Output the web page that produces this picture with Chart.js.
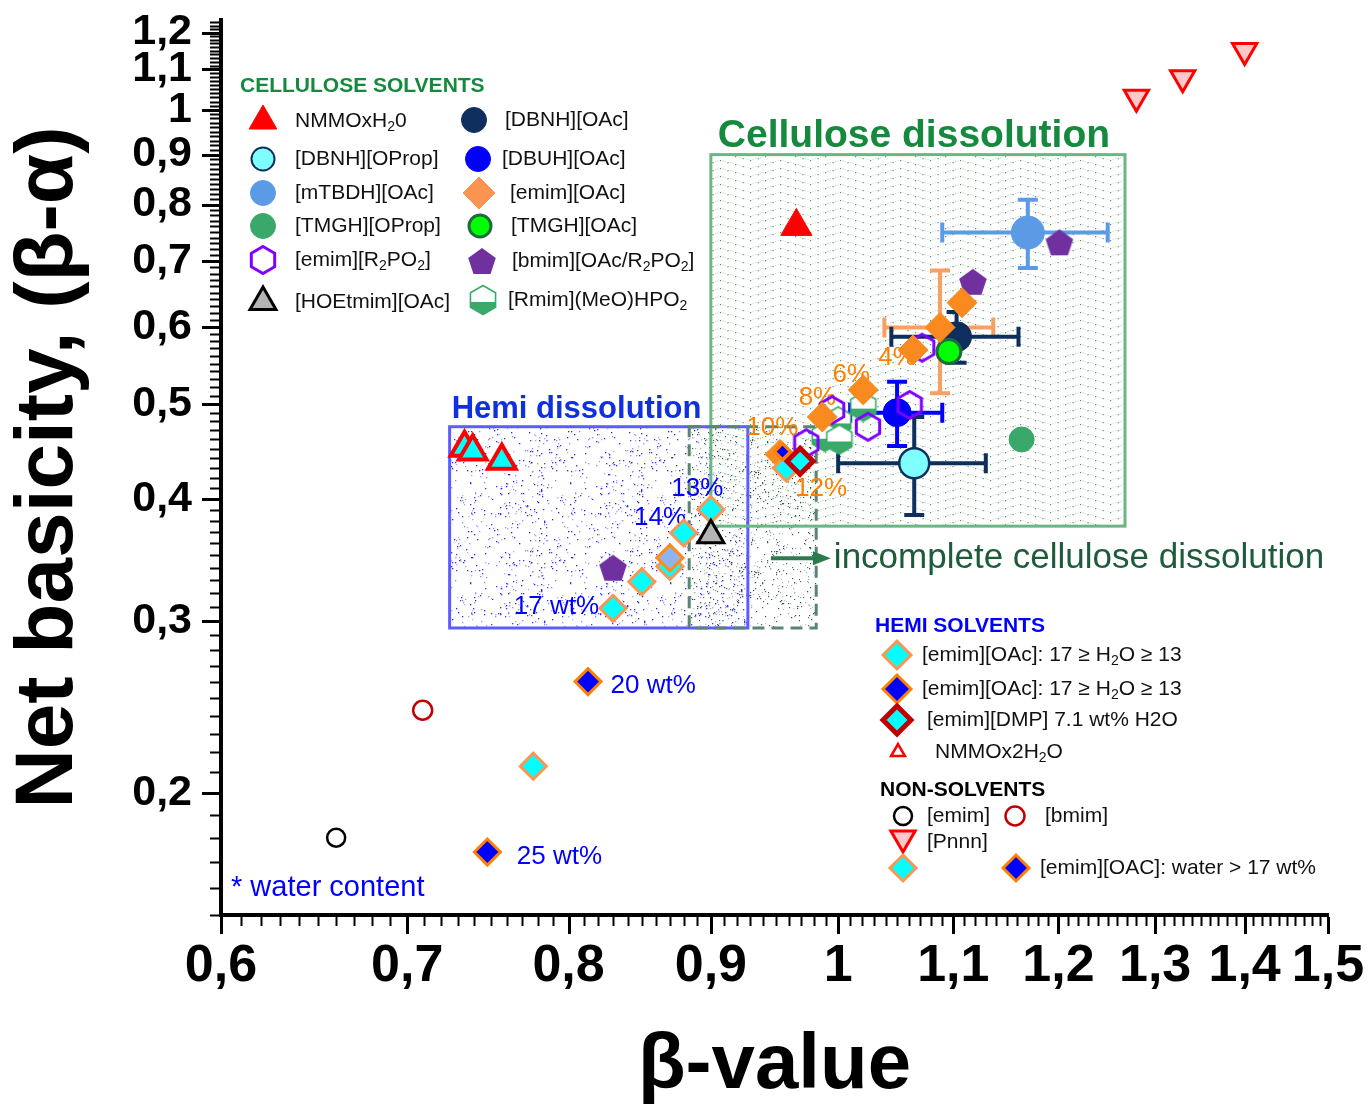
<!DOCTYPE html>
<html>
<head>
<meta charset="utf-8">
<title>Net basicity vs beta-value</title>
<script src="https://cdn.jsdelivr.net/npm/chart.js@4.4.1/dist/chart.umd.min.js"></script>
<style>
  html, body { margin: 0; padding: 0; background: #ffffff; }
  canvas { display: block; }
</style>
</head>
<body>
<canvas id="myChart" width="1368" height="1113"></canvas>
<script>
// ---- values: [beta-value, net basicity (beta-alpha)] ----
var xTicks = [0.6, 0.7, 0.8, 0.9, 1.0, 1.1, 1.2, 1.3, 1.4, 1.5];
var yTicks = [0.2, 0.3, 0.4, 0.5, 0.6, 0.7, 0.8, 0.9, 1.0, 1.1, 1.2];

// cellulose solvents
var nmmoH2O = [[0.966, 0.760]];
var dbnhOAc = [[1.103, 0.586]];
var dbnhOAcErr = [[0.058, 0.035]];
var dbnhOProp = [[1.065, 0.435]];
var dbnhOPropErr = [[0.065, 0.050]];
var dbuhOAc = [[1.050, 0.490]];
var dbuhOAcErr = [[0.040, 0.037]];
var mtbdhOAc = [[1.170, 0.749]];
var mtbdhOAcErr = [[0.080, 0.060]];
var tmghOProp = [[1.164, 0.460]];
var tmghOAc = [[1.096, 0.566]];
var emimOAc = [[1.088, 0.599], [1.108, 0.635], [1.064, 0.568], [1.021, 0.517], [0.987, 0.485], [0.953, 0.444]];
var emimOAcErr = [[0.049, 0.086], null, null, null, null, null];
var emimR2PO2 = [[1.072, 0.571], [1.061, 0.499], [1.025, 0.474], [0.995, 0.493], [0.974, 0.456]];
var bmimMix = [[1.201, 0.732], [1.118, 0.667], [0.830, 0.340]];
var hoetmimOAc = [[0.900, 0.367]];
var rmimMeOHPO2 = [[1.021, 0.497], [1.000, 0.480], [0.989, 0.463], [1.001, 0.460]];

// hemi solvents
var emimOAcHemiCyan = [[0.900, 0.390], [0.880, 0.369], [0.870, 0.341], [0.850, 0.329], [0.830, 0.309], [0.958, 0.430]];
var emimOAcHemiPale = [[0.870, 0.348]];
var emimOAcHemiBlue = [[0.955, 0.447]];
var emimDMP = [[0.969, 0.437]];
var nmmo2H2O = [[0.734, 0.451], [0.739, 0.447], [0.757, 0.4375]];

// non-solvents
var emimNon = [[0.660, 0.180]];
var bmimNon = [[0.709, 0.243]];
var pnnn = [[1.280, 1.030], [1.330, 1.079], [1.400, 1.150]];
var emimOAcWetCyan = [[0.777, 0.213]];
var emimOAcWetBlue = [[0.813, 0.260], [0.748, 0.174]];

// shaded regions: [beta from, beta to, net from, net to]
var celluloseRegion = [0.900, 1.268, 0.375, 0.900];
var hemiRegion = [0.725, 0.928, 0.295, 0.474];
var partialRegion = [0.884, 0.982, 0.295, 0.474];

var FONT = '"Liberation Sans", Arial, Helvetica, sans-serif';
Chart.defaults.font.family = FONT;
Chart.defaults.color = '#000';

// pictures for the marker shapes Chart.js has no style for
function shapeCanvas(w, h, draw) {
  var c = document.createElement('canvas');
  c.width = w; c.height = h;
  draw(c.getContext('2d'), w / 2, h / 2);
  return c;
}
function hexPath(g, cx, cy, r) {
  g.beginPath();
  for (var i = 0; i < 6; i++) {
    var a = (-90 + 60 * i) * Math.PI / 180;
    var px = cx + r * Math.cos(a), py = cy + r * Math.sin(a);
    if (i === 0) g.moveTo(px, py); else g.lineTo(px, py);
  }
  g.closePath();
}
var hexagon = shapeCanvas(28, 32, function (g, cx, cy) {
  hexPath(g, cx, cy, 13.5);
  g.strokeStyle = '#8000ff'; g.lineWidth = 3; g.stroke();
});
var pentagon = shapeCanvas(30, 30, function (g, cx, cy) {
  var r = 14.5, oy = cy + r * (1 - Math.cos(Math.PI / 5)) / 2;
  g.beginPath();
  for (var i = 0; i < 5; i++) {
    var a = (-90 + 72 * i) * Math.PI / 180;
    var px = cx + r * Math.cos(a), py = oy + r * Math.sin(a);
    if (i === 0) g.moveTo(px, py); else g.lineTo(px, py);
  }
  g.closePath();
  g.fillStyle = '#7030a0'; g.fill();
});
var halfHex = shapeCanvas(30, 34, function (g, cx, cy) {
  var r = 14.5, k = r * Math.cos(Math.PI / 6);
  hexPath(g, cx, cy, r);
  g.fillStyle = '#ffffff'; g.fill();
  g.beginPath();
  g.moveTo(cx - k, cy + 2); g.lineTo(cx + k, cy + 2); g.lineTo(cx + k, cy + r / 2);
  g.lineTo(cx, cy + r); g.lineTo(cx - k, cy + r / 2); g.closePath();
  g.fillStyle = '#3aaa6a'; g.fill();
  hexPath(g, cx, cy, r);
  g.strokeStyle = '#3aaa6a'; g.lineWidth = 1.6; g.stroke();
});

var ST = {
  nmmo:      { pointStyle: 'triangle', radius: 18, bg: '#ff0000', bc: '#ff0000', bw: 1 },
  dbnhOAc:   { pointStyle: 'circle', radius: 15, bg: '#0e2f5e', bc: '#0e2f5e', bw: 1 },
  dbnhOProp: { pointStyle: 'circle', radius: 15, bg: '#80ffff', bc: '#0e2f5e', bw: 2.5 },
  dbuh:      { pointStyle: 'circle', radius: 14, bg: '#0000ff', bc: '#0000ff', bw: 1 },
  mtbdh:     { pointStyle: 'circle', radius: 16.5, bg: '#5b9be6', bc: '#5b9be6', bw: 1 },
  tmghOProp: { pointStyle: 'circle', radius: 12.5, bg: '#3aa86a', bc: '#3aa86a', bw: 1 },
  tmghOAc:   { pointStyle: 'circle', radius: 12, bg: '#00ff00', bc: '#1f6b3c', bw: 3 },
  emimOAc:   { pointStyle: 'rectRot', radius: 15, bg: '#f98a1f', bc: '#f98a1f', bw: 1 },
  emimR2PO2: { pointStyle: hexagon, radius: 14 },
  bmimMix:   { pointStyle: pentagon, radius: 14 },
  hoetmim:   { pointStyle: 'triangle', radius: 15, bg: '#b4b4b4', bc: '#000000', bw: 3 },
  rmim:      { pointStyle: halfHex, radius: 15 },
  hemiCyan:  { pointStyle: 'rectRot', radius: 13, bg: '#00ffff', bc: '#fb9652', bw: 3 },
  hemiPale:  { pointStyle: 'rectRot', radius: 13, bg: '#8fb4ec', bc: '#ff8c1a', bw: 3 },
  hemiBlue:  { pointStyle: 'rectRot', radius: 13, bg: '#0000ff', bc: '#ff8000', bw: 3 },
  hemiBlueS: { pointStyle: 'rectRot', radius: 8, bg: '#0000ff', bc: '#ff8000', bw: 3 },
  dmp:       { pointStyle: 'rectRot', radius: 13, bg: '#00ffff', bc: '#c00000', bw: 5 },
  nmmo2:     { pointStyle: 'triangle', radius: 16, bg: '#00ffff', bc: '#ff0000', bw: 4 },
  nmmo2Leg:  { pointStyle: 'triangle', radius: 8, bg: '#ffffff', bc: '#ff0000', bw: 2.5 },
  emimNon:   { pointStyle: 'circle', radius: 9, bg: '#ffffff', bc: '#000000', bw: 2.5 },
  bmimNon:   { pointStyle: 'circle', radius: 9.5, bg: '#ffffff', bc: '#c00000', bw: 2.5 },
  pnnn:      { pointStyle: 'triangle', rotation: 180, radius: 14, bg: '#ffc8c8', bc: '#ff0000', bw: 3 }
};

function series(label, pts, st, order, errs, errColor) {
  return {
    label: label,
    data: pts.map(function (p) { return { x: p[0], y: p[1] }; }),
    showLine: false,
    pointStyle: st.pointStyle,
    pointRotation: st.rotation || 0,
    pointRadius: st.radius,
    pointHoverRadius: st.radius,
    pointBackgroundColor: st.bg || 'transparent',
    pointBorderColor: st.bc || 'transparent',
    pointBorderWidth: st.bw || 0,
    order: order,
    errorBars: errs || null,
    errorColor: errColor || '#000'
  };
}

var datasets = [
  series('[emim][DMP] 7.1 wt% H2O', emimDMP, ST.dmp, 1),
  series('[emim][OAc] hemi (blue)', emimOAcHemiBlue, ST.hemiBlueS, 1.5),
  series('[HOEtmim][OAc]', hoetmimOAc, ST.hoetmim, 2),
  series('[emim][OAc] hemi (pale)', emimOAcHemiPale, ST.hemiPale, 2.5),
  series('[emim][OAc] hemi (cyan)', emimOAcHemiCyan, ST.hemiCyan, 3),
  series('NMMOx2H2O', nmmo2H2O, ST.nmmo2, 3),
  series('[emim][OAc]', emimOAc, ST.emimOAc, 4, emimOAcErr, '#f8a062'),
  series('[TMGH][OAc]', tmghOAc, ST.tmghOAc, 5),
  series('[emim][R2PO2]', emimR2PO2, ST.emimR2PO2, 6),
  series('[bmim][OAc/R2PO2]', bmimMix, ST.bmimMix, 6),
  series('[DBUH][OAc]', dbuhOAc, ST.dbuh, 7, dbuhOAcErr, '#0000ff'),
  series('[Rmim](MeO)HPO2', rmimMeOHPO2, ST.rmim, 8),
  series('[DBNH][OAc]', dbnhOAc, ST.dbnhOAc, 9, dbnhOAcErr, '#0e2f5e'),
  series('[DBNH][OProp]', dbnhOProp, ST.dbnhOProp, 9, dbnhOPropErr, '#0e2f5e'),
  series('[mTBDH][OAc]', mtbdhOAc, ST.mtbdh, 9, mtbdhOAcErr, '#5b9be6'),
  series('[TMGH][OProp]', tmghOProp, ST.tmghOProp, 9),
  series('NMMOxH2O', nmmoH2O, ST.nmmo, 9),
  series('[emim]', emimNon, ST.emimNon, 9),
  series('[bmim]', bmimNon, ST.bmimNon, 9),
  series('[Pnnn]', pnnn, ST.pnnn, 9),
  series('[emim][OAC] water > 17 wt% (cyan)', emimOAcWetCyan, ST.hemiCyan, 9),
  series('[emim][OAC] water > 17 wt% (blue)', emimOAcWetBlue, ST.hemiBlue, 9)
];

// ---- helpers for drawing ----
function fmt(v) { return String(Math.round(v * 10) / 10).replace('.', ','); }

// text with "_x" marking a subscript character
function richText(ctx, str, x, y, size, weight, color) {
  var parts = str.split(/(_.)/);
  var cx = x;
  ctx.fillStyle = color;
  ctx.textAlign = 'left';
  ctx.textBaseline = 'middle';
  parts.forEach(function (p) {
    if (!p) return;
    if (p[0] === '_' && p.length === 2) {
      ctx.font = weight + ' ' + Math.round(size * 0.68) + 'px ' + FONT;
      ctx.fillText(p[1], cx, y + size * 0.3);
      cx += ctx.measureText(p[1]).width;
    } else {
      ctx.font = weight + ' ' + size + 'px ' + FONT;
      ctx.fillText(p, cx, y);
      cx += ctx.measureText(p).width;
    }
  });
}

function marker(ctx, st, x, y, over) {
  var o = Object.assign({}, st, over || {});
  ctx.save();
  ctx.fillStyle = o.bg || 'transparent';
  ctx.strokeStyle = o.bc || 'transparent';
  ctx.lineWidth = o.bw || 0;
  Chart.helpers.drawPoint(ctx, { pointStyle: o.pointStyle, rotation: o.rotation || 0, radius: o.radius, borderWidth: o.bw || 0 }, x, y);
  ctx.restore();
}

// texture tiles for the shaded regions (fixed seed, so always the same picture)
function dotTile(w, h, n, colors, seed, size) {
  var c = document.createElement('canvas');
  c.width = w; c.height = h;
  var g = c.getContext('2d');
  var s = seed >>> 0;
  function rnd() {
    s = (s + 0x6D2B79F5) >>> 0;
    var t = s;
    t = Math.imul(t ^ (t >>> 15), t | 1);
    t ^= t + Math.imul(t ^ (t >>> 7), t | 61);
    return ((t ^ (t >>> 14)) >>> 0) / 4294967296;
  }
  for (var i = 0; i < n; i++) {
    g.fillStyle = colors[i % colors.length];
    g.fillRect(Math.floor(rnd() * w), Math.floor(rnd() * h), size, size);
  }
  return c;
}
function waveTile() {
  var c = document.createElement('canvas');
  c.width = 120; c.height = 8;
  var g = c.getContext('2d');
  for (var x = 0; x < 120; x += 2.5) {
    var t = (x % 60) / 60;
    var yy = (t < 0.5 ? t : 1 - t) * 16;
    var k = Math.round(x / 2.5);
    g.fillStyle = k % 3 === 0 ? 'rgba(25,120,55,0.75)' : 'rgba(120,170,135,0.35)';
    g.fillRect(x, Math.floor(yy) % 8, 1.2, 1.2);
  }
  return c;
}

function regionPx(chart, r) {
  var xs = chart.scales.x, ys = chart.scales.y;
  var l = xs.getPixelForValue(r[0]), rr = xs.getPixelForValue(r[1]);
  var t = ys.getPixelForValue(r[3]), b = ys.getPixelForValue(r[2]);
  return { l: l, r: rr, t: t, b: b, w: rr - l, h: b - t };
}

var ORANGE = '#ff8000', BLUE = '#0000ff';
var pctLabels = [
  { t: '4%', x: 1.050, y: 0.558, c: ORANGE },
  { t: '6%', x: 1.011, y: 0.536, c: ORANGE },
  { t: '8%', x: 0.983, y: 0.5075, c: ORANGE },
  { t: '10%', x: 0.947, y: 0.473, c: ORANGE },
  { t: '12%', x: 0.986, y: 0.409, c: ORANGE },
  { t: '13%', x: 0.890, y: 0.4096, c: BLUE },
  { t: '14%', x: 0.863, y: 0.3825, c: BLUE },
  { t: '17 wt%', x: 0.792, y: 0.310, c: BLUE },
  { t: '20 wt%', x: 0.858, y: 0.2575, c: BLUE },
  { t: '25 wt%', x: 0.794, y: 0.172, c: BLUE }
];

var regions = {
  id: 'regions',
  beforeDatasetsDraw: function (chart) {
    var ctx = chart.ctx, a = chart.chartArea;
    var xs = chart.scales.x, ys = chart.scales.y;
    ctx.save();
    ctx.beginPath();
    ctx.rect(a.left, a.top, a.right - a.left, a.bottom - a.top);
    ctx.clip();

    var hb = regionPx(chart, hemiRegion);
    var cb = regionPx(chart, celluloseRegion);
    var pb = regionPx(chart, partialRegion);

    ctx.fillStyle = ctx.createPattern(dotTile(100, 100, 300, ['#3a3aff', '#8c8cff', '#2a2ad8', '#aaaaff'], 11, 1.3), 'repeat');
    ctx.fillRect(hb.l, hb.t, hb.w, hb.h);

    ctx.fillStyle = '#ffffff';
    ctx.fillRect(cb.l, cb.t, cb.w, cb.h);
    ctx.fillStyle = ctx.createPattern(waveTile(), 'repeat');
    ctx.fillRect(cb.l, cb.t, cb.w, cb.h);

    ctx.fillStyle = ctx.createPattern(dotTile(100, 100, 420, ['#4d6a5a', '#9ab0a4', '#3a5546', '#b8c6be'], 7, 1.2), 'repeat');
    ctx.fillRect(pb.l, pb.t, pb.w, pb.h);

    ctx.lineWidth = 3;
    ctx.strokeStyle = '#5c5cff';
    ctx.strokeRect(hb.l, hb.t, hb.w, hb.h);
    ctx.strokeStyle = '#6db584';
    ctx.strokeRect(cb.l, cb.t, cb.w, cb.h);
    ctx.setLineDash([12, 7]);
    ctx.strokeStyle = '#5a8570';
    ctx.strokeRect(pb.l, pb.t, pb.w, pb.h);
    ctx.setLineDash([]);

    // error bars
    chart.data.datasets.forEach(function (ds) {
      if (!ds.errorBars) return;
      ctx.strokeStyle = ds.errorColor;
      ctx.lineWidth = 4;
      ds.data.forEach(function (p, i) {
        var e = ds.errorBars[i];
        if (!e) return;
        var x0 = xs.getPixelForValue(p.x - e[0]), x1 = xs.getPixelForValue(p.x + e[0]);
        var y0 = ys.getPixelForValue(p.y + e[1]), y1 = ys.getPixelForValue(p.y - e[1]);
        var px = xs.getPixelForValue(p.x), py = ys.getPixelForValue(p.y);
        ctx.beginPath();
        ctx.moveTo(x0, py); ctx.lineTo(x1, py);
        ctx.moveTo(x0, py - 10); ctx.lineTo(x0, py + 10);
        ctx.moveTo(x1, py - 10); ctx.lineTo(x1, py + 10);
        ctx.moveTo(px, y0); ctx.lineTo(px, y1);
        ctx.moveTo(px - 10, y0); ctx.lineTo(px + 10, y0);
        ctx.moveTo(px - 10, y1); ctx.lineTo(px + 10, y1);
        ctx.stroke();
      });
    });

    // water-content labels
    ctx.textAlign = 'center';
    ctx.textBaseline = 'middle';
    ctx.font = '26px ' + FONT;
    pctLabels.forEach(function (l) {
      ctx.fillStyle = l.c;
      ctx.fillText(l.t, xs.getPixelForValue(l.x), ys.getPixelForValue(l.y));
    });
    ctx.restore();
  },
  afterDatasetsDraw: function (chart) {
    var ctx = chart.ctx;
    var cb = regionPx(chart, celluloseRegion);
    var hb = regionPx(chart, hemiRegion);
    ctx.save();
    ctx.textBaseline = 'alphabetic';
    ctx.textAlign = 'center';
    ctx.fillStyle = '#15893d';
    ctx.font = 'bold 39px ' + FONT;
    ctx.fillText('Cellulose dissolution', cb.l + cb.w / 2 - 4, cb.t - 8);

    ctx.textAlign = 'left';
    ctx.fillStyle = '#1030e0';
    ctx.font = 'bold 31px ' + FONT;
    ctx.fillText('Hemi dissolution', hb.l + 2, hb.t - 9);

    // arrow + "incomplete cellulose dissolution"
    var ay = cb.b + 32;
    ctx.strokeStyle = '#2e7a4e';
    ctx.fillStyle = '#2e7a4e';
    ctx.lineWidth = 4;
    ctx.beginPath(); ctx.moveTo(cb.l + 60, ay); ctx.lineTo(cb.l + 104, ay); ctx.stroke();
    ctx.beginPath(); ctx.moveTo(cb.l + 120, ay); ctx.lineTo(cb.l + 102, ay - 7); ctx.lineTo(cb.l + 102, ay + 7); ctx.closePath(); ctx.fill();
    ctx.fillStyle = '#1d5c3a';
    ctx.font = '35px ' + FONT;
    ctx.textBaseline = 'middle';
    ctx.fillText('incomplete cellulose dissolution', cb.l + 123, ay);

    ctx.fillStyle = BLUE;
    ctx.font = '29px ' + FONT;
    ctx.fillText('* water content', chart.scales.x.getPixelForValue(0.605), chart.scales.y.getPixelForValue(0.160));
    ctx.restore();
  }
};

// legends drawn as in the figure
var legendCellulose = [
  { st: 'nmmo', o: { radius: 16 }, x: 263, y: 121, text: 'NMMOxH_20', tx: 295 },
  { st: 'dbnhOAc', o: { radius: 12.5 }, x: 474, y: 120, text: '[DBNH][OAc]', tx: 505 },
  { st: 'dbnhOProp', o: { radius: 11.5, bw: 2 }, x: 263, y: 159, text: '[DBNH][OProp]', tx: 295 },
  { st: 'dbuh', o: { radius: 12.5 }, x: 478, y: 159, text: '[DBUH][OAc]', tx: 502 },
  { st: 'mtbdh', o: { radius: 12.5 }, x: 263, y: 193, text: '[mTBDH][OAc]', tx: 295 },
  { st: 'emimOAc', o: { radius: 16, bg: '#fb9450', bc: '#fb9450' }, x: 479, y: 193, text: '[emim][OAc]', tx: 510 },
  { st: 'tmghOProp', o: { radius: 12.5 }, x: 263, y: 226, text: '[TMGH][OProp]', tx: 295 },
  { st: 'tmghOAc', o: { radius: 11 }, x: 480, y: 226, text: '[TMGH][OAc]', tx: 511 },
  { st: 'emimR2PO2', x: 263, y: 260, text: '[emim][R_2PO_2]', tx: 295 },
  { st: 'bmimMix', x: 482, y: 261, text: '[bmim][OAc/R_2PO_2]', tx: 512 },
  { st: 'hoetmim', o: { radius: 15 }, x: 263, y: 302, text: '[HOEtmim][OAc]', tx: 295 },
  { st: 'rmim', x: 483, y: 300, text: '[Rmim](MeO)HPO_2', tx: 508 }
];
var legendHemi = [
  { st: 'hemiCyan', o: { radius: 14 }, x: 897, y: 655, text: '[emim][OAc]: 17 \u2265 H_2O \u2265 13', tx: 922 },
  { st: 'hemiBlue', o: { radius: 14 }, x: 897, y: 689, text: '[emim][OAc]: 17 \u2265 H_2O \u2265 13', tx: 922 },
  { st: 'dmp', o: { radius: 14 }, x: 897, y: 720, text: '[emim][DMP] 7.1 wt% H2O', tx: 927 },
  { st: 'nmmo2Leg', x: 898, y: 752, text: 'NMMOx2H_2O', tx: 935 }
];
var legendNon = [
  { st: 'emimNon', x: 903, y: 816, text: '[emim]', tx: 927 },
  { st: 'bmimNon', x: 1015, y: 816, text: '[bmim]', tx: 1045 },
  { st: 'pnnn', x: 903, y: 838, text: '[Pnnn]', tx: 927, ty: 842 },
  { st: 'hemiCyan', x: 903, y: 868 },
  { st: 'hemiBlue', x: 1016, y: 868, text: '[emim][OAC]: water > 17 wt%', tx: 1040 }
];

var legends = {
  id: 'legends',
  afterDraw: function (chart) {
    var ctx = chart.ctx;
    ctx.save();
    richText(ctx, 'CELLULOSE SOLVENTS', 240, 86, 21, 'bold', '#15893d');
    richText(ctx, 'HEMI SOLVENTS', 875, 626, 21, 'bold', BLUE);
    richText(ctx, 'NON-SOLVENTS', 880, 790, 21, 'bold', '#000');
    [legendCellulose, legendHemi, legendNon].forEach(function (list) {
      list.forEach(function (it) {
        marker(ctx, ST[it.st], it.x, it.y, it.o);
        if (it.text) richText(ctx, it.text, it.tx, it.ty || it.y, 21, 'normal', '#111');
      });
    });
    ctx.restore();
  }
};

// major and minor tick marks outside the axes
var tickMarks = {
  id: 'tickMarks',
  afterDraw: function (chart) {
    var ctx = chart.ctx, a = chart.chartArea;
    var xs = chart.scales.x, ys = chart.scales.y;
    ctx.save();
    ctx.strokeStyle = '#000';
    for (var k = 60; k <= 150; k++) {
      var px = Math.round(xs.getPixelForValue(k / 100)) + 0.5;
      var major = k % 10 === 0;
      ctx.lineWidth = major ? 3 : 2;
      ctx.beginPath(); ctx.moveTo(px, a.bottom + 2); ctx.lineTo(px, a.bottom + 2 + (major ? 17 : 9)); ctx.stroke();
    }
    for (var j = 15; j <= 123; j++) {
      var py = Math.round(ys.getPixelForValue(j / 100)) + 0.5;
      var maj = j % 10 === 0 && j >= 20;
      ctx.lineWidth = maj ? 3 : 2;
      ctx.beginPath(); ctx.moveTo(a.left - 2, py); ctx.lineTo(a.left - 2 - (maj ? 17 : 9), py); ctx.stroke();
    }
    ctx.restore();
  }
};

var chart = new Chart(document.getElementById('myChart').getContext('2d'), {
  type: 'scatter',
  data: { datasets: datasets },
  options: {
    responsive: false,
    animation: false,
    layout: { padding: { top: 20, right: 40, bottom: 0, left: 0 } },
    plugins: {
      legend: { display: false },
      tooltip: { enabled: false }
    },
    scales: {
      x: {
        type: 'logarithmic',
        position: 'bottom',
        min: 0.6, max: 1.5,
        bounds: 'data',
        afterBuildTicks: function (axis) { axis.ticks = xTicks.map(function (v) { return { value: v }; }); },
        afterFit: function (axis) { axis.height = 198; axis.paddingLeft = 0; axis.paddingRight = 0; },
        grid: { display: false, drawTicks: false },
        border: { display: true, color: '#000', width: 4 },
        ticks: {
          autoSkip: false, maxRotation: 0, padding: 20, color: '#000',
          font: { size: 52, weight: 'bold' },
          callback: function (v) { return fmt(v); }
        },
        title: { display: true, text: '\u03b2-value', color: '#000', padding: 0, font: { size: 78, weight: 'bold' } }
      },
      y: {
        type: 'logarithmic',
        position: 'left',
        min: 0.15, max: 1.236,
        bounds: 'data',
        afterBuildTicks: function (axis) { axis.ticks = yTicks.map(function (v) { return { value: v }; }); },
        afterFit: function (axis) { axis.width = 221; axis.paddingTop = 0; axis.paddingBottom = 0; },
        grid: { display: false, drawTicks: false },
        border: { display: true, color: '#000', width: 4 },
        ticks: {
          autoSkip: false, padding: 29, color: '#000',
          font: { size: 43, weight: 'bold' },
          callback: function (v) { return fmt(v); }
        },
        title: { display: true, text: 'Net basicity, (\u03b2-\u03b1)', color: '#000', padding: 0, font: { size: 82, weight: 'bold' } }
      }
    }
  },
  plugins: [regions, legends, tickMarks]
});
</script>
</body>
</html>
